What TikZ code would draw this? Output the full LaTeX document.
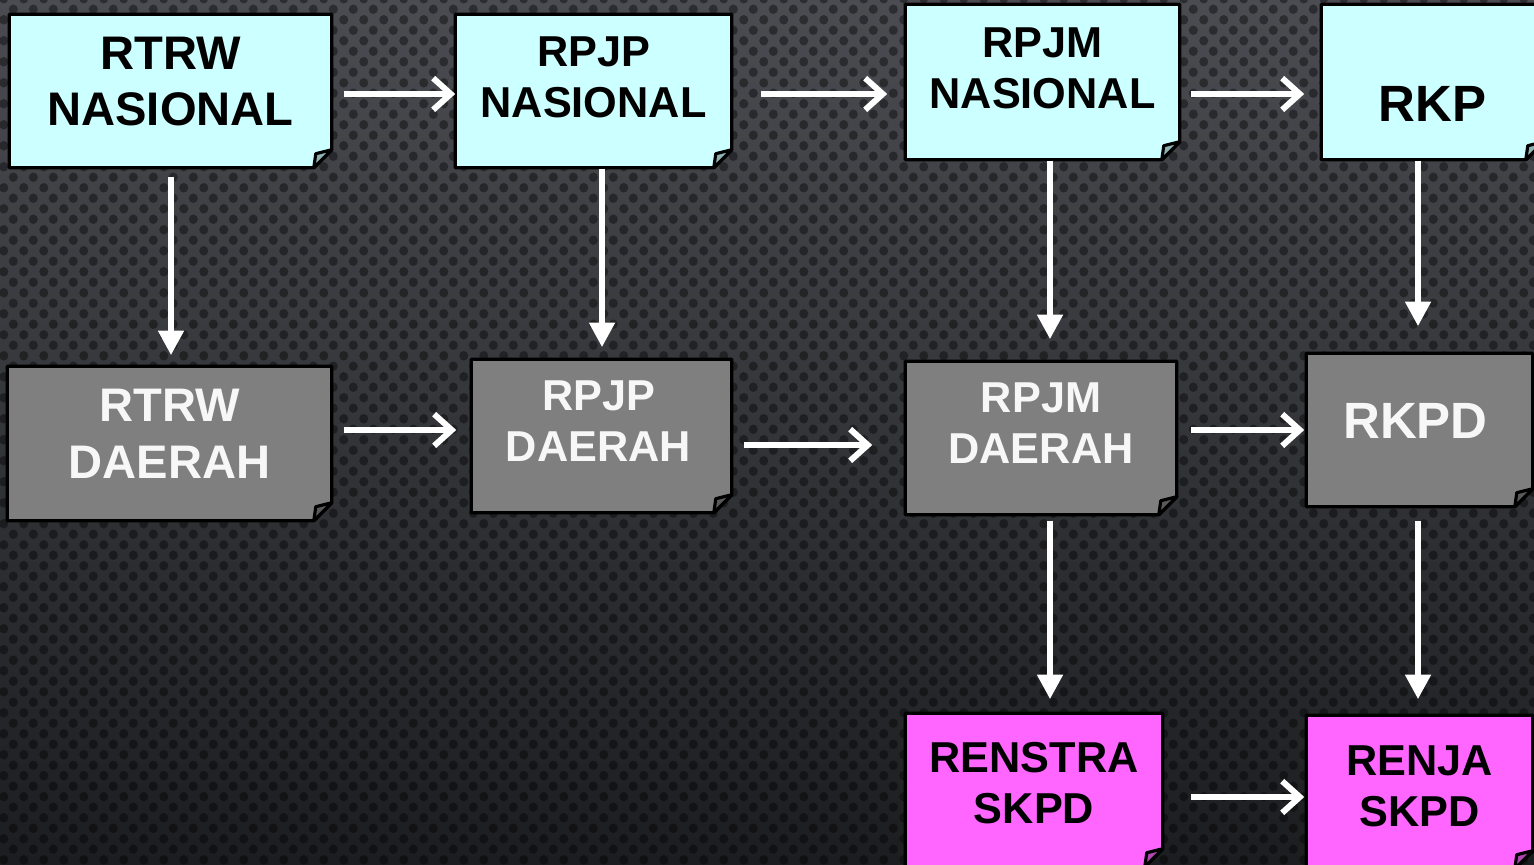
\documentclass[tikz,border=0pt]{standalone}
\usepackage{fontspec}
\setmainfont{Liberation Sans}
\usetikzlibrary{arrows.meta,patterns,backgrounds,positioning}

\definecolor{nascyan}{HTML}{CCFFFF}
\definecolor{dagray}{HTML}{7F7F7F}
\definecolor{skpdpink}{HTML}{FF66FF}
\definecolor{bgtop}{HTML}{4A4C51}
\definecolor{bgbot}{HTML}{1C1D20}
\definecolor{daerahtxt}{HTML}{F7F7F7}

\pgfdeclarepatternformonly{bgdots}{\pgfqpoint{0pt}{0pt}}{\pgfqpoint{5.69pt}{5.97pt}}{\pgfqpoint{5.69pt}{5.97pt}}{%
  \pgfpathcircle{\pgfqpoint{1.42pt}{1.49pt}}{1.35pt}
  \pgfpathcircle{\pgfqpoint{4.27pt}{4.48pt}}{1.35pt}
  \pgfusepath{fill}}

\tikzstyle{note}=[rectangle,inner sep=0pt]
\tikzstyle{bigtxt}=[font=\fontsize{13.4}{16}\selectfont\bfseries]
\tikzstyle{midtxt}=[font=\fontsize{12.3}{14.5}\selectfont\bfseries]
\tikzstyle{hugetxt}=[font=\fontsize{14.5}{17}\selectfont\bfseries]
\tikzstyle{outline}=[draw=black,line width=.9pt,line join=round]
\tikzstyle{flow}=[draw,white,line width=1.5pt,-{Straight Barb[length=5pt,width=9pt,line width=1.7pt]}]
\tikzstyle{down}=[draw,white,line width=1.7pt,-{Triangle[length=7pt,width=7pt]}]

\newcommand{\notetext}[2]{\raisebox{#1}[0pt][0pt]{\begin{tabular}{@{}c@{}}#2\end{tabular}}}

\begin{document}
\begin{tikzpicture}[x=0.01cm,y=-0.01cm]

 \useasboundingbox (0,0) rectangle (1534,865);

 %nasional
 \foreach \x/\y/\w/\h/\name/\fs/\dy/\txt in {170.5/91/3.21cm/1.52cm/rtrwn/bigtxt/-2.25pt/{RTRW\\NASIONAL},
     593.5/91/2.75cm/1.52cm/rpjpn/midtxt/-0.5pt/{RPJP\\NASIONAL},
     1042.5/82/2.73cm/1.54cm/rpjmn/midtxt/-0.3pt/{RPJM\\NASIONAL},
     1432.5/82/2.21cm/1.54cm/rkp/hugetxt/-11.4pt/{RKP}}
   \node[note,\fs,text=black,minimum width=\w,minimum height=\h] (\name) at (\x,\y) {\notetext{\dy}{\txt}};

 %daerah
 \foreach \x/\y/\w/\h/\name/\fs/\dy/\txt in {169.5/443.5/3.23cm/1.53cm/rtrwd/bigtxt/-2.25pt/{RTRW\\DAERAH},
     601.5/436/2.59cm/1.52cm/rpjpd/midtxt/0pt/{\hspace*{-.06cm}RPJP\\\hspace*{-.06cm}DAERAH},
     1041/438/2.70cm/1.52cm/rpjmd/midtxt/0pt/{RPJM\\DAERAH},
     1419.5/430/2.25cm/1.52cm/rkpd/hugetxt/-2.55pt/{\hspace*{-.08cm}RKPD}}
   \node[note,\fs,text=daerahtxt,minimum width=\w,minimum height=\h] (\name) at (\x,\y) {\notetext{\dy}{\txt}};

 %skpd
 \foreach \x/\y/\w/\h/\name/\fs/\dy/\txt in {1034/790/2.56cm/1.52cm/renstra/midtxt/-2.3pt/{RENSTRA\\SKPD},
     1419.5/792/2.25cm/1.52cm/renja/midtxt/-2.6pt/{RENJA\\SKPD}}
   \node[note,\fs,text=black,minimum width=\w,minimum height=\h] (\name) at (\x,\y) {\notetext{\dy}{\txt}};

 %sheets with folded corner
 \begin{pgfonlayer}{background}
  \shade[top color=bgtop,bottom color=bgbot] (0,0) rectangle (1534,865);
  \fill[pattern=bgdots,pattern color=black,fill opacity=.4] (0,0) rectangle (1534,865);
  \foreach \name/\c in {rtrwn/nascyan,rpjpn/nascyan,rpjmn/nascyan,rkp/nascyan,
      rtrwd/dagray,rpjpd/dagray,rpjmd/dagray,rkpd/dagray,renstra/skpdpink,renja/skpdpink}{
    \path[outline,fill=\c] (\name.north west) -- (\name.north east) -- ([yshift=.18cm]\name.south east)
        -- ([xshift=-.18cm]\name.south east) -- (\name.south west) -- cycle;
    \path[outline,fill=\c!70!black] ([yshift=.18cm]\name.south east) -- ([xshift=-.16cm,yshift=.14cm]\name.south east)
        -- ([xshift=-.18cm]\name.south east) -- cycle;
  }
 \end{pgfonlayer}

 %horizontal arrows
 \foreach \a/\b/\y/\s/\e in {rtrwn/rpjpn/94/.12cm/0cm, rpjpn/rpjmn/94/.29cm/.18cm, rpjmn/rkp/94/.11cm/.17cm,
     rtrwd/rpjpd/430/.12cm/.15cm, rpjpd/rpjmd/445/.12cm/.33cm, rpjmd/rkpd/430/.14cm/.02cm,
     renstra/renja/797/.28cm/.02cm}
   \path[flow,shorten <=\s,shorten >=\e] (\a.east |- 0,\y) -- (\b.west |- 0,\y);

 %vertical arrows
 \foreach \a/\b/\x/\s/\e in {rtrwn/rtrwd/171/.09cm/.11cm, rpjpn/rpjpd/602/.01cm/.12cm,
     rpjmn/rpjmd/1050/.01cm/.22cm, rkp/rkpd/1418/.01cm/.27cm,
     rpjmd/renstra/1050/.06cm/.14cm, rkpd/renja/1418/.14cm/.16cm}
   \path[down,shorten <=\s,shorten >=\e] (\a.south -| \x,0) -- (\b.north -| \x,0);

\end{tikzpicture}
\end{document}
